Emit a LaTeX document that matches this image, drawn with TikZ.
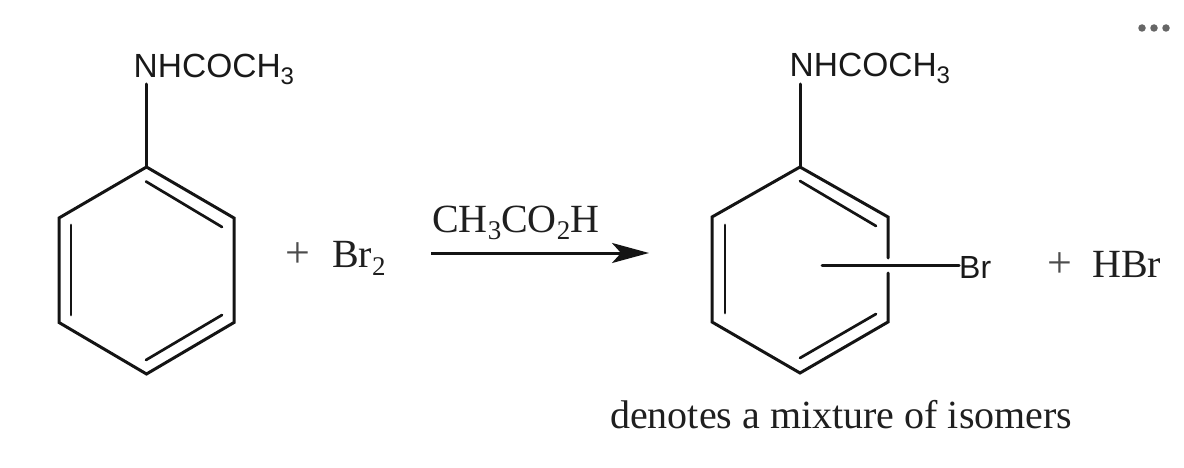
\documentclass[tikz,border=0pt]{standalone}
\usepackage{fontspec}
\setmainfont{Liberation Serif}
\setsansfont{Liberation Sans}
\usetikzlibrary{arrows.meta}
\newcommand{\sansub}[1]{\raisebox{-7pt}{\fontsize{24}{26}\selectfont #1}}
\newcommand{\serifsub}[1]{\raisebox{-8pt}{\fontsize{27}{29}\selectfont #1}}
\tikzset{
  bond/.style={line width=3pt,draw=black!92,line cap=round,line join=miter},
  innerbond/.style={line width=2.7pt,draw=black!92,line cap=round},
  sanslabel/.style={inner sep=0pt,anchor=base west,font=\sffamily\fontsize{33.5}{36}\selectfont,text=black!90},
  seriflabel/.style={inner sep=0pt,anchor=base west,font=\rmfamily\fontsize{40}{44}\selectfont,text=black!88},
  plussign/.style={inner sep=0pt,font=\rmfamily\fontsize{44}{48}\selectfont,text=black!70},
  menudot/.style={circle,fill=black!60,draw=none,minimum size=7.5pt,inner sep=0pt}
}
\begin{document}
\begin{tikzpicture}[x=1pt,y=-1pt]
\useasboundingbox (0,0) rectangle (1184,468);
% left ring
\coordinate (la) at (146.5,167);
\coordinate (lb) at (234,218);
\coordinate (lc) at (234,322.5);
\coordinate (ld) at (146.5,374);
\coordinate (le) at (59,322.5);
\coordinate (lf) at (59,218);
\coordinate (lab1) at (146,181.5);
\coordinate (lab2) at (222,227);
\coordinate (lcd1) at (222,315);
\coordinate (lcd2) at (146,360);
\coordinate (lef1) at (71,315);
\coordinate (lef2) at (71,225);
\coordinate (ln) at (146.5,84);
\draw[bond] (la) -- (lb) -- (lc) -- (ld) -- (le) -- (lf) -- cycle;
\draw[innerbond] (lab1) -- (lab2);
\draw[innerbond] (lcd1) -- (lcd2);
\draw[innerbond] (lef1) -- (lef2);
\draw[bond] (la) -- (ln);
\node[sanslabel] (nhl) at (133.5,78) {NHCOCH\sansub{3}};
\node[plussign] (plusl) at (298,255.5) {+};
\node[seriflabel] (brtwo) at (332,267) {Br\serifsub{2}};
% arrow
\node[seriflabel] (solvent) at (432,232) {CH\serifsub{3}CO\serifsub{2}H};
\coordinate (arrs) at (431,253);
\coordinate (arre) at (649,253);
\draw[line width=3pt,draw=black!92,-{Stealth[length=37pt,width=20pt,inset=9pt]}] (arrs) -- (arre);
% right ring
\coordinate (ra) at (800,167);
\coordinate (rb) at (888,217);
\coordinate (rbg) at (888,258);
\coordinate (rcg) at (888,273);
\coordinate (rc) at (888,322);
\coordinate (rd) at (800,373);
\coordinate (re) at (712,322);
\coordinate (rf) at (712,217);
\coordinate (rab1) at (800,181);
\coordinate (rab2) at (876,226);
\coordinate (rcd1) at (876,314);
\coordinate (rcd2) at (800,358);
\coordinate (ref1) at (725,313);
\coordinate (ref2) at (725,225);
\coordinate (rn) at (800,84);
\coordinate (rs) at (822,265);
\draw[bond] (rbg) -- (rb) -- (ra) -- (rf) -- (re) -- (rd) -- (rc) -- (rcg);
\draw[innerbond] (rab1) -- (rab2);
\draw[innerbond] (rcd1) -- (rcd2);
\draw[innerbond] (ref1) -- (ref2);
\draw[bond] (ra) -- (rn);
\node[sanslabel] (nhr) at (789.5,77) {NHCOCH\sansub{3}};
\node[sanslabel,font=\sffamily\fontsize{32}{35}\selectfont] (brsub) at (959,278) {Br};
\draw[bond] (rs) -- (brsub.west |- rs);
\node[plussign] (plusr) at (1060,265.5) {+};
\node[seriflabel] (hbr) at (1092,277) {HBr};
\node[seriflabel] (note) at (610,428.5) {denotes a mixture of isomers};
% menu dots
\node[menudot] (d1) at (1142,28) {};
\node[menudot] (d2) at (1154,28) {};
\node[menudot] (d3) at (1166,28) {};
\end{tikzpicture}
\end{document}
